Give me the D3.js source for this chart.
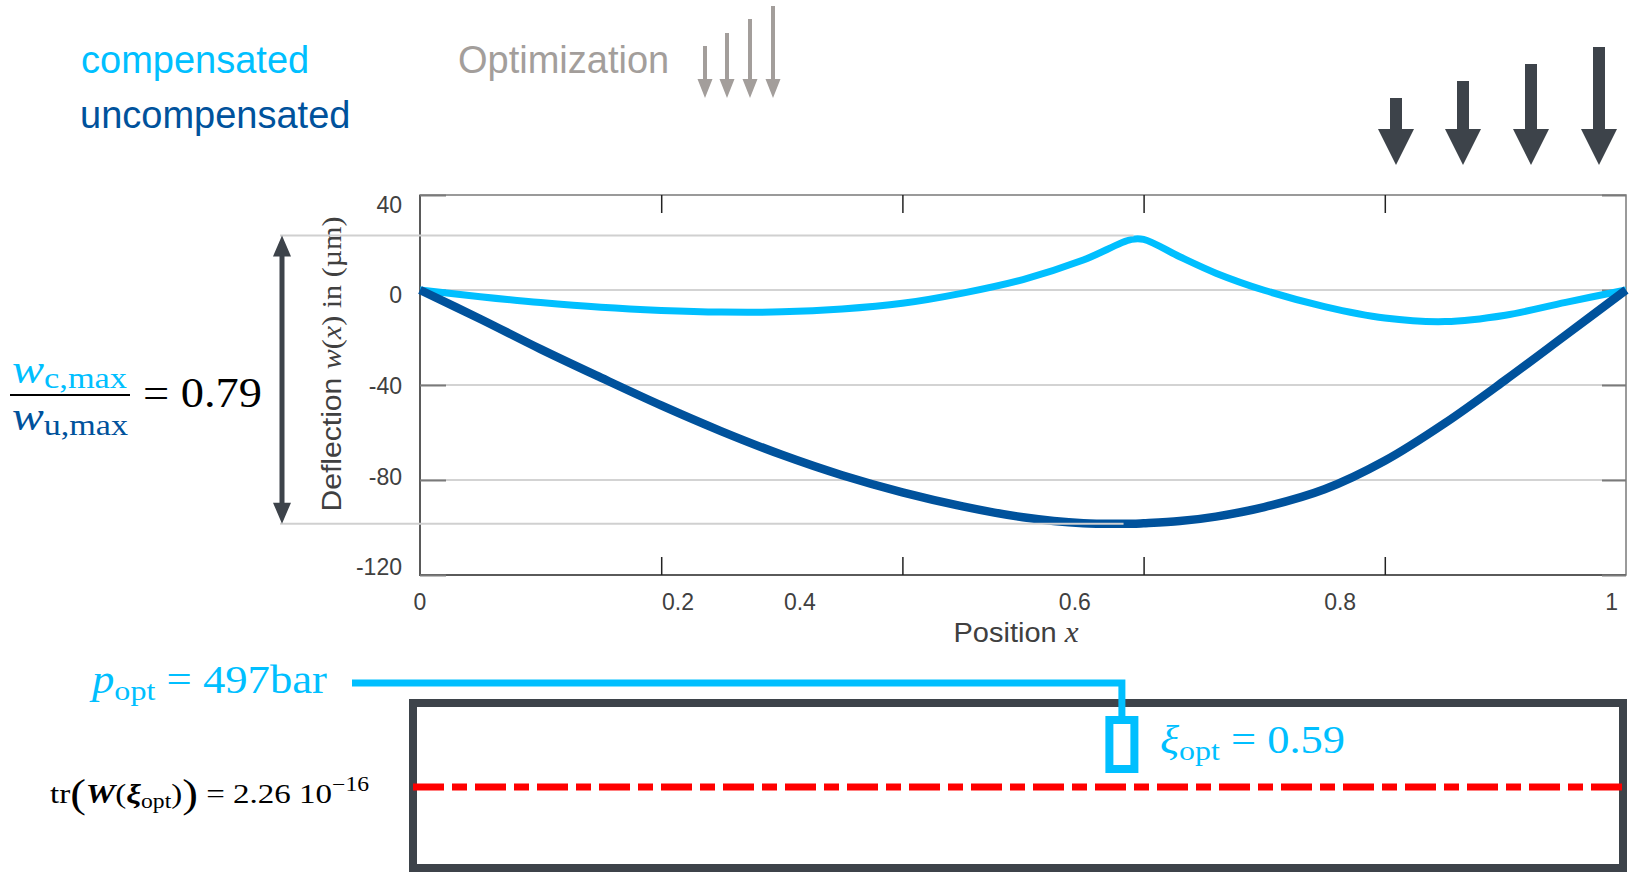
<!DOCTYPE html>
<html>
<head>
<meta charset="utf-8">
<script src="https://d3js.org/d3.v7.min.js"></script>
<style>
  body { margin: 0; background: #fff; }
  svg { display: block; }
  .sans { font-family: "Liberation Sans", Arial, sans-serif; }
  .serif { font-family: "Liberation Serif", "Times New Roman", serif; }
</style>
</head>
<body>
<script>
// beam positions and deflections (µm)
var xPos = [0, 0.05, 0.1, 0.15, 0.2, 0.25, 0.3, 0.35, 0.4, 0.45, 0.5, 0.55, 0.59, 0.6, 0.63, 0.66, 0.7, 0.75, 0.8, 0.85, 0.9, 0.95, 1];
var compensated = [0, -2.8, -5.3, -7.3, -8.6, -9.3, -9.2, -8.0, -5.6, -1.3, 4.4, 12.6, 21.3, 21.3, 14.0, 7.1, -0.1, -7.0, -11.8, -13.3, -10.6, -5.2, 0];
var uncompensated = [0, -12.2, -24.9, -36.9, -48.6, -59.5, -69.4, -78.0, -85.2, -91.1, -95.7, -98.2, -98.4, -98.2, -97.3, -95.4, -91.4, -83.9, -71.9, -56.0, -37.9, -19.0, 0];

var xTicks = [0.2, 0.4, 0.6, 0.8];
var xTickLabels = ["0", "0.2", "0.4", "0.6", "0.8", "1"];
var xLabelAt = [0, 0.214, 0.315, 0.543, 0.763, 0.988];   // labels are offset from the ticks in the original
var yTicks = [40, 0, -40, -80, -120];
var yGrid = [0, -40, -80];
var yTickLabels = ["40", "0", "-40", "-80", "-120"];
var yLabelAt = [35.8, -2.1, -40.4, -78.6, -116.6];

var ratio = "0.79";
var pOpt = "497";
var xiOpt = "0.59";
var xiMarker = 0.582;
var traceVal = "2.26";
var traceExp = "\u221216";

var LIGHT = "#00bfff", DARK = "#00529c", SLATE = "#3d434a", GREY_TXT = "#404040";

var svg = d3.select("body").append("svg")
  .attr("width", 1629).attr("height", 872);

var x = d3.scaleLinear().domain([0, 1]).range([420, 1626]);
var y = d3.scaleLinear().domain([-120, 40]).range([575, 195]);

// grid
svg.selectAll(".grid").data(yGrid).enter().append("line")
  .attr("x1", x(0)).attr("x2", x(1))
  .attr("y1", d => y(d)).attr("y2", d => y(d))
  .attr("stroke", "#d3d3d3").attr("stroke-width", 2);

// frame
svg.append("rect").attr("x", x(0)).attr("y", y(40))
  .attr("width", x(1) - x(0)).attr("height", y(-120) - y(40))
  .attr("fill", "none").attr("stroke", "#7a7a7a").attr("stroke-width", 1.5);
svg.append("path")
  .attr("d", "M" + x(0) + "," + y(40) + "V" + y(-120) + "H" + x(1))
  .attr("fill", "none").attr("stroke", "#5a5a5a").attr("stroke-width", 2);

// tick marks (inside)
function styleAxis(g, col, w) {
  g.select(".domain").remove();
  g.selectAll(".tick line").attr("stroke", col).attr("stroke-width", w);
}
svg.append("g").attr("transform", "translate(0," + y(-120) + ")")
  .call(d3.axisBottom(x).tickValues(xTicks).tickSize(-18).tickFormat(""))
  .call(styleAxis, "#222", 1.5);
svg.append("g").attr("transform", "translate(0," + y(40) + ")")
  .call(d3.axisTop(x).tickValues(xTicks).tickSize(-18).tickFormat(""))
  .call(styleAxis, "#222", 1.5);
svg.append("g").attr("transform", "translate(" + x(0) + ",0)")
  .call(d3.axisLeft(y).tickValues(yTicks).tickSize(-26).tickFormat(""))
  .call(styleAxis, "#7a7a7a", 2);
svg.append("g").attr("transform", "translate(" + x(1) + ",0)")
  .call(d3.axisRight(y).tickValues(yTicks).tickSize(-24).tickFormat(""))
  .call(styleAxis, "#7a7a7a", 2);

// tick labels
svg.selectAll(".xl").data(xTickLabels).enter().append("text")
  .attr("class", "sans")
  .attr("x", (d, i) => x(xLabelAt[i])).attr("y", 610)
  .attr("text-anchor", "middle").attr("font-size", 23).attr("fill", GREY_TXT)
  .text(d => d);
svg.selectAll(".yl").data(yTickLabels).enter().append("text")
  .attr("class", "sans")
  .attr("x", 402).attr("y", (d, i) => y(yLabelAt[i]) + 8)
  .attr("text-anchor", "end").attr("font-size", 23).attr("fill", GREY_TXT)
  .text(d => d);

// axis titles
var xt = svg.append("text").attr("x", 1016).attr("y", 642)
  .attr("text-anchor", "middle").attr("fill", GREY_TXT).attr("font-size", 27)
  .attr("textLength", 125).attr("lengthAdjust", "spacingAndGlyphs");
xt.append("tspan").attr("class", "sans").text("Position ");
xt.append("tspan").attr("class", "serif").attr("font-style", "italic").attr("font-size", 29).text("x");

var yt = svg.append("text").attr("transform", "translate(341,364) rotate(-90)")
  .attr("text-anchor", "middle").attr("fill", GREY_TXT).attr("font-size", 27)
  .attr("textLength", 295).attr("lengthAdjust", "spacingAndGlyphs");
yt.append("tspan").attr("class", "sans").text("Deflection ");
yt.append("tspan").attr("class", "serif").attr("font-style", "italic").text("w");
yt.append("tspan").attr("class", "serif").text("(");
yt.append("tspan").attr("class", "serif").attr("font-style", "italic").text("x");
yt.append("tspan").attr("class", "serif").text(") in (\u00b5m)");

// curves
var line = d3.line()
  .x((d, i) => x(xPos[i]))
  .y(d => y(d))
  .curve(d3.curveCatmullRom.alpha(0.5));
svg.append("path").datum(compensated).attr("d", line)
  .attr("fill", "none").attr("stroke", LIGHT).attr("stroke-width", 7);
svg.append("path").datum(uncompensated).attr("d", line)
  .attr("fill", "none").attr("stroke", DARK).attr("stroke-width", 8.5);

// reference lines for the max deflections + double arrow
var iMax = d3.maxIndex(compensated), iMin = d3.minIndex(uncompensated);
var yTop = y(compensated[iMax]) - 4, yBot = y(uncompensated[iMin]);
var arrowX = 282;
svg.append("line").attr("x1", arrowX - 2).attr("x2", x(xPos[iMax]) + 2)
  .attr("y1", yTop).attr("y2", yTop).attr("stroke", "#d0d0d0").attr("stroke-width", 2);
svg.append("line").attr("x1", arrowX - 2).attr("x2", x(xPos[iMin]) - 8)
  .attr("y1", yBot).attr("y2", yBot).attr("stroke", "#d0d0d0").attr("stroke-width", 2);
svg.append("line").attr("x1", arrowX).attr("x2", arrowX)
  .attr("y1", yTop + 18).attr("y2", yBot - 18)
  .attr("stroke", SLATE).attr("stroke-width", 5);
svg.append("path")
  .attr("d", "M" + arrowX + "," + yTop + "l-9,21h18z M" + arrowX + "," + yBot + "l-9,-21h18z")
  .attr("fill", SLATE);

// down arrows
function downArrow(cx, top, tip, shaftW, headW, headH, col) {
  var hb = tip - headH;
  svg.append("path")
    .attr("d", "M" + (cx - shaftW / 2) + "," + top + "H" + (cx + shaftW / 2) + "V" + hb +
      "H" + (cx + headW / 2) + "L" + cx + "," + tip + "L" + (cx - headW / 2) + "," + hb +
      "H" + (cx - shaftW / 2) + "Z")
    .attr("fill", col);
}
[[705, 46], [727, 33], [750, 19], [773, 6]].forEach(a => downArrow(a[0], a[1], 98, 4, 15, 19, "#a39e9b"));
[[1396, 98], [1463, 81], [1531, 64], [1599, 47]].forEach(a => downArrow(a[0], a[1], 165, 12, 36, 36, SLATE));

// legend
svg.append("text").attr("class", "sans").attr("x", 81).attr("y", 73)
  .attr("font-size", 38).attr("fill", LIGHT).text("compensated");
svg.append("text").attr("class", "sans").attr("x", 80).attr("y", 128)
  .attr("font-size", 38).attr("fill", DARK).text("uncompensated");
svg.append("text").attr("class", "sans").attr("x", 458).attr("y", 73)
  .attr("font-size", 38).attr("fill", "#a39e9b").text("Optimization");

// ratio w_c,max / w_u,max
var num = svg.append("text").attr("class", "serif").attr("x", 12).attr("y", 383)
  .attr("font-size", 42).attr("fill", LIGHT)
  .attr("textLength", 115).attr("lengthAdjust", "spacingAndGlyphs");
num.append("tspan").attr("font-style", "italic").text("w");
num.append("tspan").attr("font-size", 30).attr("dy", 5).text("c,max");
svg.append("line").attr("x1", 10).attr("x2", 130).attr("y1", 395).attr("y2", 395)
  .attr("stroke", "#000").attr("stroke-width", 2);
var den = svg.append("text").attr("class", "serif").attr("x", 12).attr("y", 430)
  .attr("font-size", 42).attr("fill", DARK)
  .attr("textLength", 116).attr("lengthAdjust", "spacingAndGlyphs");
den.append("tspan").attr("font-style", "italic").text("w");
den.append("tspan").attr("font-size", 30).attr("dy", 5).text("u,max");
svg.append("text").attr("class", "serif").attr("x", 143).attr("y", 407)
  .attr("font-size", 42).attr("fill", "#000")
  .attr("textLength", 119).attr("lengthAdjust", "spacingAndGlyphs")
  .text("= " + ratio);

// bottom panel
svg.append("rect").attr("x", 413).attr("y", 703).attr("width", 1210).attr("height", 165)
  .attr("fill", "none").attr("stroke", SLATE).attr("stroke-width", 8);
svg.append("line").attr("x1", 413).attr("x2", 1629).attr("y1", 787).attr("y2", 787)
  .attr("stroke", "#ff0000").attr("stroke-width", 7).attr("stroke-dasharray", "31 8 15 8");

var xm = x(xiMarker);
svg.append("path").attr("d", "M352,683H" + xm + "V716")
  .attr("fill", "none").attr("stroke", LIGHT).attr("stroke-width", 7);
svg.append("rect").attr("x", xm - 12.5).attr("y", 720).attr("width", 25).attr("height", 49)
  .attr("fill", "none").attr("stroke", LIGHT).attr("stroke-width", 8);

var pt = svg.append("text").attr("class", "serif").attr("x", 92).attr("y", 693)
  .attr("font-size", 39).attr("fill", LIGHT)
  .attr("textLength", 235).attr("lengthAdjust", "spacingAndGlyphs");
pt.append("tspan").attr("font-style", "italic").text("p");
pt.append("tspan").attr("font-size", 28).attr("dy", 7).text("opt");
pt.append("tspan").attr("dy", -7).text(" = " + pOpt + "bar");

var xi = svg.append("text").attr("class", "serif").attr("x", 1160).attr("y", 753)
  .attr("font-size", 39).attr("fill", LIGHT)
  .attr("textLength", 185).attr("lengthAdjust", "spacingAndGlyphs");
xi.append("tspan").attr("font-style", "italic").text("\u03be");
xi.append("tspan").attr("font-size", 28).attr("dy", 7).text("opt");
xi.append("tspan").attr("dy", -7).text(" = " + xiOpt);

var tr = svg.append("text").attr("class", "serif").attr("x", 50).attr("y", 803)
  .attr("font-size", 28).attr("fill", "#000")
  .attr("textLength", 319).attr("lengthAdjust", "spacingAndGlyphs");
tr.append("tspan").text("tr");
tr.append("tspan").attr("font-size", 40).attr("dy", 4).text("(");
tr.append("tspan").attr("dy", -4).attr("font-weight", "bold").attr("font-style", "italic").text("W");
tr.append("tspan").text("(");
tr.append("tspan").attr("font-weight", "bold").attr("font-style", "italic").text("\u03be");
tr.append("tspan").attr("font-size", 20).attr("dy", 5).text("opt");
tr.append("tspan").attr("dy", -5).text(")");
tr.append("tspan").attr("font-size", 40).attr("dy", 4).text(")");
tr.append("tspan").attr("dy", -4).text(" = " + traceVal + " 10");
tr.append("tspan").attr("font-size", 20).attr("dy", -12).text(traceExp);
</script>
</body>
</html>
